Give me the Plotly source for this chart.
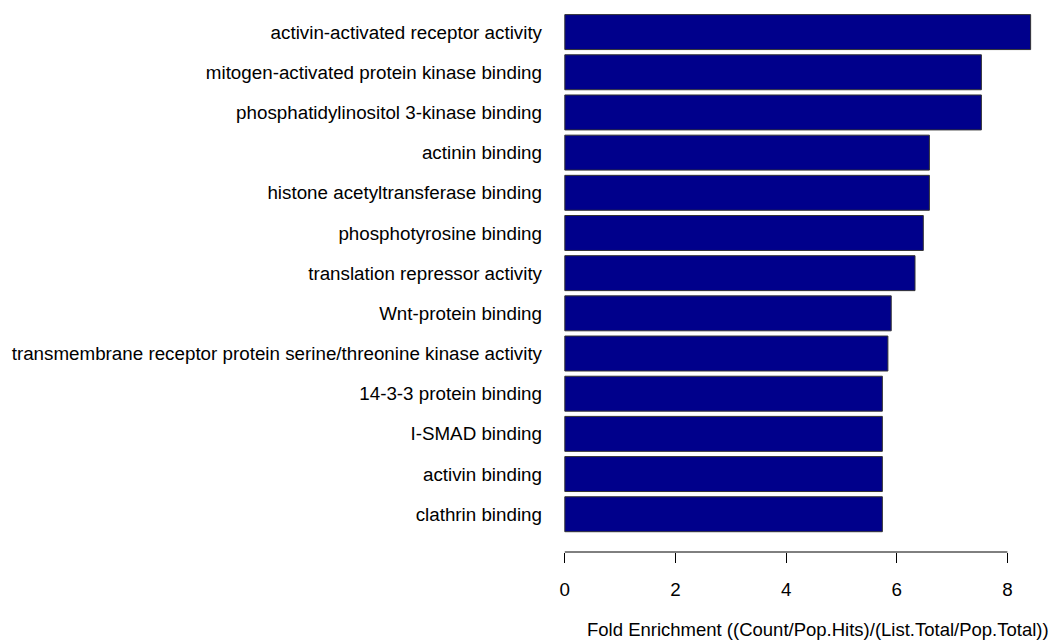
import plotly.graph_objects as go

categories = [
    "activin-activated receptor activity",
    "mitogen-activated protein kinase binding",
    "phosphatidylinositol 3-kinase binding",
    "actinin binding",
    "histone acetyltransferase binding",
    "phosphotyrosine binding",
    "translation repressor activity",
    "Wnt-protein binding",
    "transmembrane receptor protein serine/threonine kinase activity",
    "14-3-3 protein binding",
    "I-SMAD binding",
    "activin binding",
    "clathrin binding",
]
fold_enrichment = [8.42, 7.53, 7.53, 6.59, 6.59, 6.48, 6.33, 5.90, 5.84, 5.74, 5.74, 5.74, 5.74]
x_ticks = [0, 2, 4, 6, 8]
x_title = "Fold Enrichment ((Count/Pop.Hits)/(List.Total/Pop.Total))"

FONT = "Liberation Sans, Arial, sans-serif"
FS = 18.8

fig = go.Figure(
    go.Bar(
        x=fold_enrichment,
        y=categories,
        orientation="h",
        marker=dict(color="#00008B", line=dict(color="#333333", width=1)),
    )
)

fig.update_layout(
    width=1043,
    height=633,
    margin=dict(l=538, r=1, t=4, b=89, pad=0),
    paper_bgcolor="white",
    plot_bgcolor="white",
    bargap=0.13,
    showlegend=False,
    font=dict(family=FONT, size=FS, color="black"),
    xaxis=dict(
        range=[-0.34, 8.77],
        tickvals=x_ticks,
        ticktext=[str(t) for t in x_ticks],
        ticks="outside",
        ticklen=10,
        tickwidth=1,
        tickcolor="black",
        showline=False,
        showgrid=False,
        zeroline=False,
        ticklabelstandoff=10,
        tickfont=dict(family=FONT, size=FS, color="black"),
    ),
    yaxis=dict(
        range=[12.94, -0.5],
        showline=False,
        showgrid=False,
        zeroline=False,
        ticks="",
        ticklabelstandoff=3,
        tickfont=dict(family=FONT, size=FS, color="black"),
    ),
    shapes=[
        dict(
            type="line",
            xref="x",
            yref="paper",
            x0=min(x_ticks),
            x1=max(x_ticks),
            y0=0,
            y1=0,
            line=dict(color="black", width=1),
        )
    ],
    annotations=[
        dict(
            text=x_title,
            xref="paper",
            yref="paper",
            x=0.5397,
            y=-0.1444,
            xanchor="center",
            yanchor="middle",
            showarrow=False,
            font=dict(family=FONT, size=18.5, color="black"),
        )
    ],
)

fig.write_html("out.html")
